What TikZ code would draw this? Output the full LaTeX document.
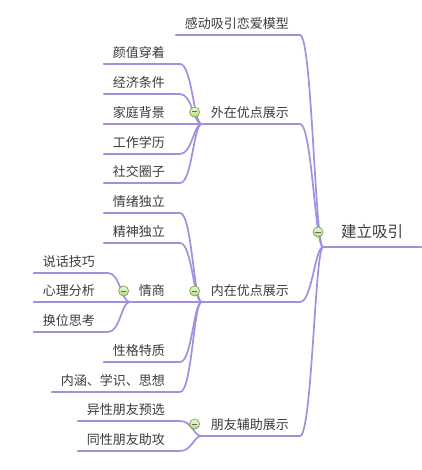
\documentclass[tikz,border=0pt]{standalone}
\usepackage{fontspec}
\newfontfamily\cjk{Noto Sans CJK SC}
\definecolor{lineC}{RGB}{163,143,222}
\definecolor{txtC}{RGB}{60,60,60}
\definecolor{btnTop}{RGB}{236,248,220}
\definecolor{btnBot}{RGB}{178,220,130}
\definecolor{btnDraw}{RGB}{128,174,78}
\tikzset{
  conn/.style={draw=lineC, line width=1.7pt, line cap=round, line join=round},
  topic/.style={font=\cjk\fontsize{13pt}{15pt}\selectfont, text=txtC, inner xsep=9pt, inner ysep=0pt,
                text height=12pt, text depth=6pt, anchor=south east},
  roottopic/.style={font=\cjk\fontsize{15.5pt}{18pt}\selectfont, text=txtC, inner xsep=18pt, inner ysep=0pt,
                text height=14pt, text depth=9pt, anchor=south west},
  btn/.style={circle, minimum size=10pt, inner sep=0pt, draw=btnDraw, line width=0.8pt,
              top color=btnTop, bottom color=btnBot,
              path picture={\draw[line width=1pt, black!60]
                ([xshift=-2.6pt]path picture bounding box.center) -- ([xshift=2.6pt]path picture bounding box.center);}}
}
\newcommand\mmLink[2]{\draw[conn] (#1.south west) -- (#1.south east) .. controls +(12,0) and +(-8,0) .. (#2.south west);}
\newcommand\mmEq[2]{\draw[conn] (#1.south west) -- (#2.south west);}
\begin{document}
\begin{tikzpicture}[x=1pt, y=-1pt]
\useasboundingbox (0,0) rectangle (421,470);
% root
\node[roottopic] (R) at (323,247) {建立吸引};
% level 1
\node[topic] (A) at (300,35) {感动吸引恋爱模型\kern2pt};
\node[topic] (B) at (300,124) {外在优点展示\kern2pt};
\node[topic] (C) at (300,302) {内在优点展示\kern2pt};
\node[topic] (D) at (300,436) {朋友辅助展示\kern2pt};
% children of B
\node[topic] (B1) at (180,64) {颜值穿着\kern6pt};
\node[topic] (B2) at (180,94) {经济条件\kern6pt};
\node[topic] (B3) at (180,124) {家庭背景\kern6pt};
\node[topic] (B4) at (180,154) {工作学历\kern6pt};
\node[topic] (B5) at (180,183) {社交圈子\kern6pt};
% children of C
\node[topic] (C1) at (180,213) {情绪独立\kern6pt};
\node[topic] (C2) at (180,243) {精神独立\kern6pt};
\node[topic] (C3) at (180,302) {情商\kern6pt};
\node[topic] (C4) at (180,362) {性格特质\kern6pt};
\node[topic] (C5) at (180,392) {内涵、学识、思想\kern6pt};
% children of C3
\node[topic] (E1) at (108,273) {说话技巧\kern4pt};
\node[topic] (E2) at (108,302) {心理分析\kern4pt};
\node[topic] (E3) at (108,332) {换位思考\kern4pt};
% children of D
\node[topic] (D1) at (180,421) {异性朋友预选\kern6pt};
\node[topic] (D2) at (180,451) {同性朋友助攻\kern6pt};
% connectors
\draw[conn] (R.south west) -- (R.south east);
\mmLink{A}{R}
\mmLink{B}{R}
\mmLink{C}{R}
\mmLink{D}{R}
\mmLink{B1}{B}
\mmLink{B2}{B}
\mmEq{B3}{B}
\mmLink{B4}{B}
\mmLink{B5}{B}
\mmLink{C1}{C}
\mmLink{C2}{C}
\mmEq{C3}{C}
\mmLink{C4}{C}
\mmLink{C5}{C}
\mmLink{E1}{C3}
\mmEq{E2}{C3}
\mmLink{E3}{C3}
\mmLink{D1}{D}
\mmLink{D2}{D}
% collapse buttons
\node[btn] (bR) at ([shift={(-5,-15)}]R.south west) {};
\node[btn] (bB) at ([shift={(-7,-12)}]B.south west) {};
\node[btn] (bC) at ([shift={(-7,-11)}]C.south west) {};
\node[btn] (bD) at ([shift={(-7,-12)}]D.south west) {};
\node[btn] (bC3) at ([shift={(-6,-11)}]C3.south west) {};
\end{tikzpicture}
\end{document}
